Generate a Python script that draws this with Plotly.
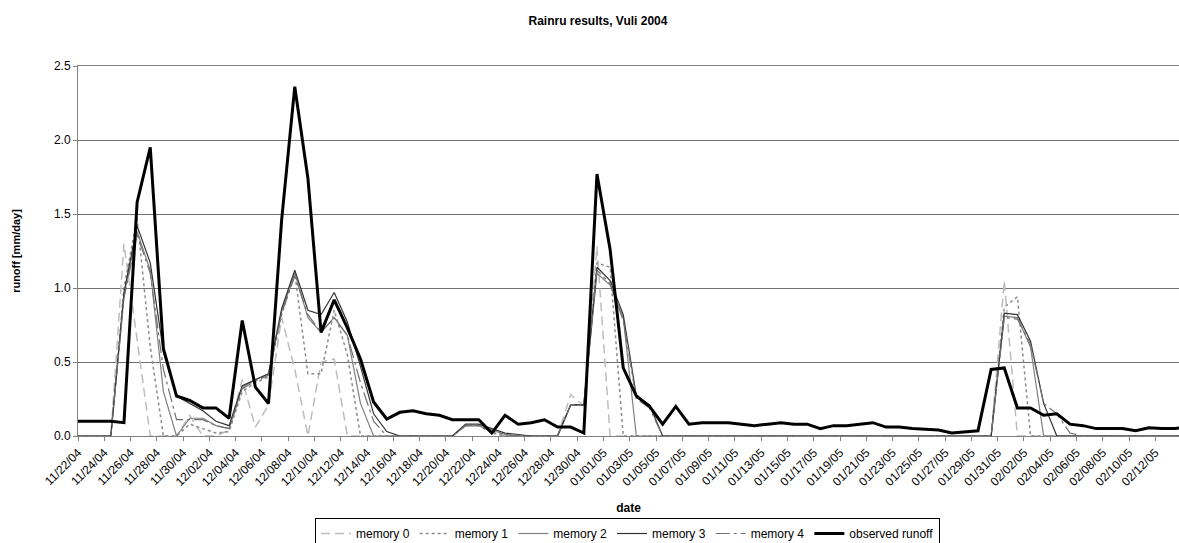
import pandas as pd
import plotly.graph_objects as go

# daily values (noon), 11/21/04 .. 02/14/05
start_date = "2004-11-21 12:00"
n_days = 86

observed = [
    0.10,
    0.10, 0.10, 0.10, 0.09, 1.58, 1.95, 0.59, 0.27, 0.24, 0.19,
    0.19, 0.12, 0.78, 0.33, 0.22, 1.46, 2.36, 1.74, 0.70, 0.92,
    0.73, 0.52, 0.23, 0.115, 0.16, 0.17, 0.15, 0.14, 0.11, 0.11,
    0.11, 0.02, 0.14, 0.08, 0.09, 0.11, 0.06, 0.06, 0.02, 1.77,
    1.26, 0.46, 0.27, 0.20, 0.08, 0.20, 0.08, 0.09, 0.09, 0.09,
    0.08, 0.07, 0.08, 0.09, 0.08, 0.08, 0.05, 0.07, 0.07, 0.08,
    0.09, 0.06, 0.06, 0.05, 0.045, 0.04, 0.02, 0.03, 0.035, 0.45,
    0.46, 0.19, 0.19, 0.14, 0.15, 0.08, 0.07, 0.05, 0.05, 0.05,
    0.035, 0.055, 0.05, 0.05, 0.065,
]

memory0 = [
    0,
    0, 0, 0, 1.30, 0.65, 0, 0, 0, 0.14, 0,
    0, 0.04, 0.38, 0.06, 0.21, 0.80, 0.45, 0, 0.50, 0.52,
    0, 0, 0, 0, 0, 0, 0, 0, 0, 0.07,
    0.07, 0.03, 0, 0, 0, 0, 0, 0.28, 0.20, 1.28,
    0, 0, 0, 0, 0, 0, 0, 0, 0, 0,
    0, 0, 0, 0, 0, 0, 0, 0, 0, 0,
    0, 0, 0, 0, 0, 0, 0, 0, 0, 0,
    1.05, 0, 0, 0, 0, 0, 0, 0, 0, 0,
    0, 0, 0, 0, 0,
]

memory1 = [
    0,
    0, 0, 0, 1.00, 1.47, 0.60, 0, 0, 0.08, 0.05,
    0.02, 0.03, 0.30, 0.36, 0.40, 0.82, 1.10, 0.42, 0.42, 0.85,
    0.55, 0, 0, 0, 0, 0, 0, 0, 0, 0.07,
    0.07, 0.02, 0, 0, 0, 0, 0, 0.21, 0.21, 1.17,
    1.14, 0, 0, 0, 0, 0, 0, 0, 0, 0,
    0, 0, 0, 0, 0, 0, 0, 0, 0, 0,
    0, 0, 0, 0, 0, 0, 0, 0, 0, 0,
    0.87, 0.94, 0, 0, 0, 0, 0, 0, 0, 0,
    0, 0, 0, 0, 0,
]

memory2 = [
    0,
    0, 0, 0, 0.95, 1.38, 1.12, 0.30, 0, 0.12, 0.12,
    0.07, 0.05, 0.33, 0.38, 0.42, 0.84, 1.10, 0.80, 0.70, 0.80,
    0.68, 0.22, 0, 0, 0, 0, 0, 0, 0, 0.07,
    0.07, 0.04, 0.01, 0, 0, 0, 0, 0.21, 0.21, 1.10,
    1.02, 0.80, 0, 0, 0, 0, 0, 0, 0, 0,
    0, 0, 0, 0, 0, 0, 0, 0, 0, 0,
    0, 0, 0, 0, 0, 0, 0, 0, 0, 0,
    0.81, 0.80, 0.60, 0, 0, 0, 0, 0, 0, 0,
    0, 0, 0, 0, 0,
]

memory3 = [
    0,
    0, 0, 0, 0.97, 1.42, 1.17, 0.57, 0.27, 0.22, 0.17,
    0.10, 0.07, 0.34, 0.38, 0.42, 0.86, 1.12, 0.85, 0.82, 0.97,
    0.77, 0.47, 0.15, 0.03, 0, 0, 0, 0, 0, 0.08,
    0.08, 0.05, 0.02, 0.01, 0, 0, 0, 0.21, 0.21, 1.14,
    1.05, 0.82, 0.27, 0.21, 0, 0, 0, 0, 0, 0,
    0, 0, 0, 0, 0, 0, 0, 0, 0, 0,
    0, 0, 0, 0, 0, 0, 0, 0, 0, 0,
    0.83, 0.82, 0.64, 0.22, 0, 0, 0, 0, 0, 0,
    0, 0, 0, 0, 0,
]

memory4 = [
    0,
    0, 0, 0, 0.93, 1.36, 1.10, 0.45, 0.11, 0.11, 0.11,
    0.07, 0.05, 0.32, 0.37, 0.41, 0.83, 1.08, 0.82, 0.70, 0.80,
    0.68, 0.36, 0.10, 0, 0, 0, 0, 0, 0, 0.07,
    0.07, 0.03, 0.01, 0, 0, 0, 0, 0.21, 0.21, 1.12,
    1.03, 0.78, 0.25, 0.19, 0, 0, 0, 0, 0, 0,
    0, 0, 0, 0, 0, 0, 0, 0, 0, 0,
    0, 0, 0, 0, 0, 0, 0, 0, 0, 0,
    0.80, 0.79, 0.62, 0.22, 0.15, 0.02, 0, 0, 0, 0,
    0, 0, 0, 0, 0,
]

series_names = ["memory 0", "memory 1", "memory 2", "memory 3", "memory 4", "observed runoff"]
y_ticks = [0.0, 0.5, 1.0, 1.5, 2.0, 2.5]

dates = pd.date_range(start=start_date, periods=n_days, freq="D")

styles = [
    dict(color="#BDBDBD", width=1.5, dash="9px,5px"),
    dict(color="#8C8C8C", width=1.5, dash="3px,3px"),
    dict(color="#808080", width=1.2, dash="solid"),
    dict(color="#333333", width=1.2, dash="solid"),
    dict(color="#707070", width=1.2, dash="14px,4px,3px,4px"),
    dict(color="#000000", width=3, dash="solid"),
]

fig = go.Figure()
for name, vals, st in zip(series_names,
                          [memory0, memory1, memory2, memory3, memory4, observed],
                          styles):
    fig.add_trace(go.Scatter(x=dates, y=vals, mode="lines", name=name, line=st))

font = "Arial, Liberation Sans, sans-serif"
fig.update_layout(
    width=1179, height=543,
    margin=dict(l=78, r=0, t=66, b=107, autoexpand=False),
    paper_bgcolor="white", plot_bgcolor="white",
    font=dict(family=font, size=12, color="black"),
    title=dict(text="<b>Rainru results, Vuli 2004</b>", x=598 / 1179, xref="container",
               xanchor="center", y=1 - 21 / 543, yref="container", yanchor="middle",
               font=dict(size=12)),
    showlegend=True,
    legend=dict(orientation="h", x=(315 - 78) / 1101, xanchor="left",
                y=(436 - 518) / 370, yanchor="top",
                bordercolor="#000000", borderwidth=1, font=dict(size=12),
                tracegroupgap=0, itemwidth=30),
)
fig.update_xaxes(
    type="date",
    range=["2004-11-22 00:00", "2005-02-13 19:12"],
    tick0="2004-11-22", dtick=2 * 86400000,
    tickformat="%m/%d/%y", tickangle=-45,
    ticks="outside", ticklen=4, tickcolor="#808080",
    showline=True, linecolor="#808080", linewidth=1, mirror=True,
    showgrid=False, zeroline=False,
    title=dict(text="<b>date</b>", font=dict(size=12), standoff=15),
    tickfont=dict(size=12),
)
fig.update_yaxes(
    range=[0, 2.5], tickvals=y_ticks, tickformat=".1f",
    ticks="outside", ticklen=4, tickcolor="#808080",
    showline=True, linecolor="#808080", linewidth=1,
    showgrid=True, gridcolor="#707070", gridwidth=1, zeroline=False,
    title=dict(text="<b>runoff [mm/day]</b>", font=dict(size=11), standoff=31),
    tickfont=dict(size=12),
)

fig.write_html("out.html", config={"displayModeBar": False},
               post_script="document.body.style.margin='0px';")
